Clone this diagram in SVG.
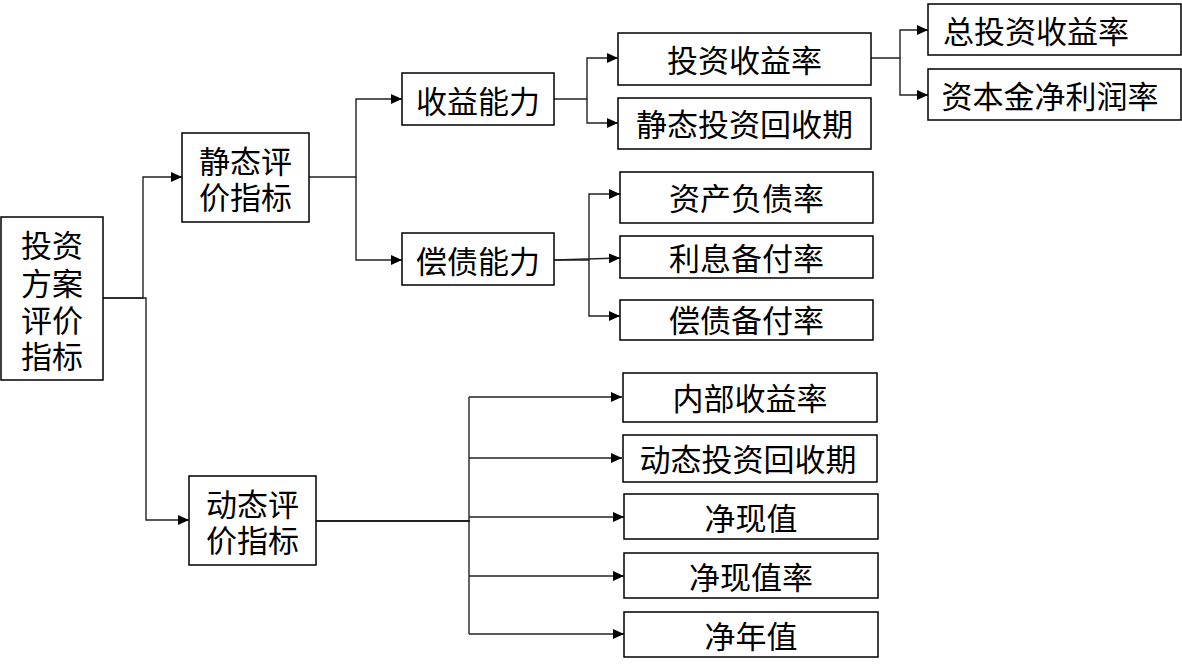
<svg xmlns="http://www.w3.org/2000/svg" width="1182" height="670" viewBox="0 0 1182 670">
<style>
.box{fill:#fff;stroke:#000;stroke-width:1.5}
.t{font-family:"Noto Sans CJK SC","Noto Sans",sans-serif;font-size:31px;fill:#000;text-anchor:middle;dominant-baseline:central}
.c{fill:none;stroke:#222;stroke-width:1.4}
</style>
<defs>
<marker id="ah" markerUnits="userSpaceOnUse" markerWidth="11" markerHeight="10" refX="11" refY="5" orient="auto">
<path d="M0,0 L11,5 L0,10 z" fill="#000"/>
</marker>
</defs>
<rect width="1182" height="670" fill="#fff"/>
<g id="connectors">
<path class="c" d="M103,298 H143 V177 H182" marker-end="url(#ah)"/>
<path class="c" d="M103,298 H146 V520 H189" marker-end="url(#ah)"/>
<path class="c" d="M309,177 H356 V99 H402" marker-end="url(#ah)"/>
<path class="c" d="M356,177 V260 H402" marker-end="url(#ah)"/>
<path class="c" d="M554,99 H587 V58 H618" marker-end="url(#ah)"/>
<path class="c" d="M587,99 V123 H618" marker-end="url(#ah)"/>
<path class="c" d="M871,58 H900 V30 H928" marker-end="url(#ah)"/>
<path class="c" d="M900,58 V95 H928" marker-end="url(#ah)"/>
<path class="c" d="M554,260 H589 V194 H620" marker-end="url(#ah)"/>
<path class="c" d="M554,260 L620,258" marker-end="url(#ah)"/>
<path class="c" d="M589,260 V316 H620" marker-end="url(#ah)"/>
<path class="c" d="M316,521 H470" style="stroke-width:2.2"/>
<path class="c" d="M469,397 V634"/>
<path class="c" d="M469,397 H622" marker-end="url(#ah)"/>
<path class="c" d="M469,458 H622" marker-end="url(#ah)"/>
<path class="c" d="M469,517 H624" marker-end="url(#ah)"/>
<path class="c" d="M469,576 H624" marker-end="url(#ah)"/>
<path class="c" d="M469,634 H624" marker-end="url(#ah)"/>
</g>
<g id="root"><rect class="box" x="1" y="217" width="102" height="163"/>
<text class="t"><tspan x="52" y="243">投资</tspan><tspan x="52" y="281">方案</tspan><tspan x="52" y="318">评价</tspan><tspan x="52" y="354">指标</tspan></text></g>
<g id="static"><rect class="box" x="182" y="133" width="127" height="89"/>
<text class="t"><tspan x="245.5" y="159">静态评</tspan><tspan x="245.5" y="195">价指标</tspan></text></g>
<g id="dynamic"><rect class="box" x="189" y="476" width="127" height="89"/>
<text class="t"><tspan x="252.5" y="502">动态评</tspan><tspan x="252.5" y="538">价指标</tspan></text></g>
<g id="profit"><rect class="box" x="402" y="73" width="152" height="52"/><text class="t" x="478" y="99">收益能力</text></g>
<g id="solvency"><rect class="box" x="402" y="233" width="152" height="52"/><text class="t" x="478" y="259">偿债能力</text></g>
<g id="roi"><rect class="box" x="618" y="33" width="253" height="52"/><text class="t" x="744.5" y="58">投资收益率</text></g>
<g id="static-payback"><rect class="box" x="618" y="98" width="253" height="51"/><text class="t" x="744.5" y="122">静态投资回收期</text></g>
<g id="total-roi"><rect class="box" x="928" y="4" width="253" height="51"/><text class="t" x="1036" y="29">总投资收益率</text></g>
<g id="roe"><rect class="box" x="928" y="69" width="253" height="51"/><text class="t" x="1050" y="94">资本金净利润率</text></g>
<g id="debt-ratio"><rect class="box" x="620" y="172" width="253" height="51"/><text class="t" x="746.5" y="196">资产负债率</text></g>
<g id="icr"><rect class="box" x="620" y="236" width="253" height="42"/><text class="t" x="746.5" y="256">利息备付率</text></g>
<g id="dscr"><rect class="box" x="620" y="300" width="253" height="40"/><text class="t" x="746.5" y="318">偿债备付率</text></g>
<g id="irr"><rect class="box" x="623" y="373" width="254" height="49"/><text class="t" x="750" y="396">内部收益率</text></g>
<g id="dynamic-payback"><rect class="box" x="623" y="435" width="254" height="47"/><text class="t" x="748" y="457">动态投资回收期</text></g>
<g id="npv"><rect class="box" x="624" y="494" width="254" height="45"/><text class="t" x="751" y="516">净现值</text></g>
<g id="npvr"><rect class="box" x="624" y="553" width="254" height="45"/><text class="t" x="751" y="575">净现值率</text></g>
<g id="nav"><rect class="box" x="624" y="612" width="254" height="45"/><text class="t" x="751" y="634">净年值</text></g>
</svg>
